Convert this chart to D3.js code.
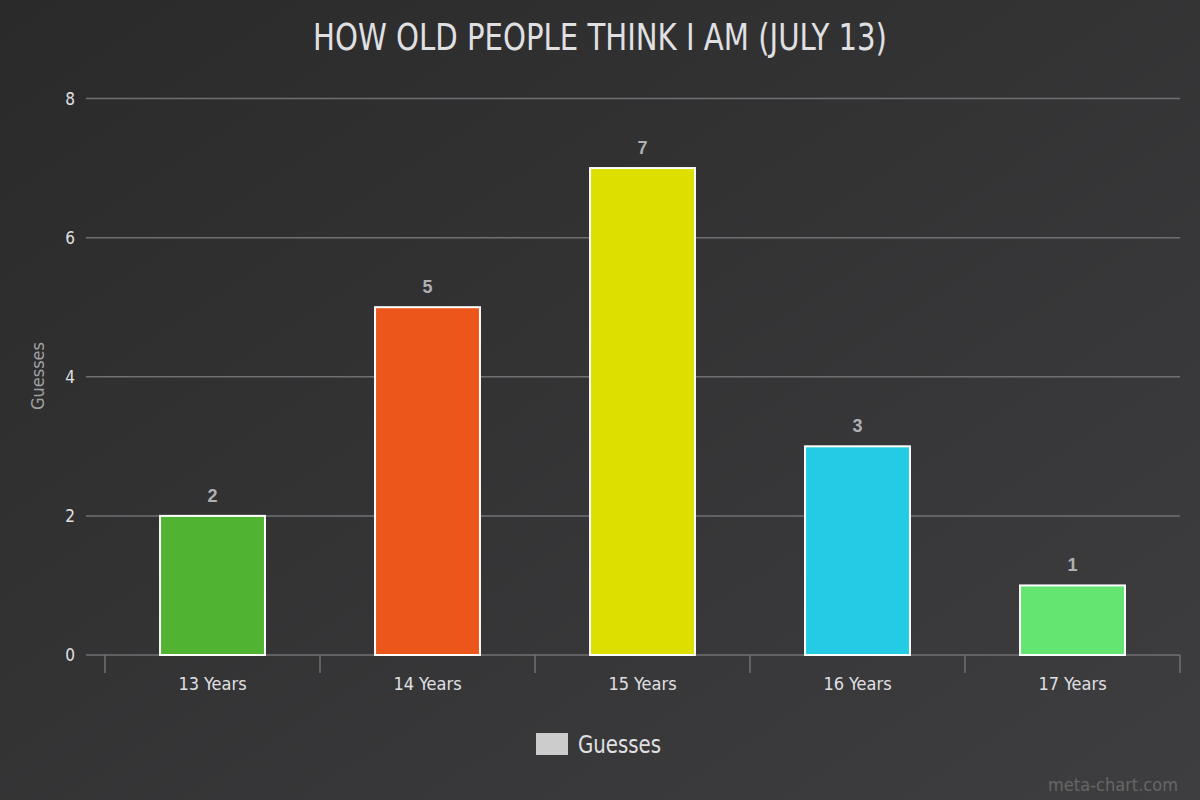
<!DOCTYPE html>
<html><head><meta charset="utf-8">
<script src="https://cdn.jsdelivr.net/npm/d3@7"></script>
<style>html,body{margin:0;padding:0;background:#2a2a2b;}svg{display:block;}</style>
</head><body>
<svg id="c" width="1200" height="800"></svg>
<script>
const categories = ["13 Years","14 Years","15 Years","16 Years","17 Years"];
const values = [2,5,7,3,1];
const colors = ["#50b432","#ed561b","#dddf00","#24cbe5","#64e572"];
const yTicks = [0,2,4,6,8];
const title = "HOW OLD PEOPLE THINK I AM (JULY 13)";
const seriesName = "Guesses";

const cond = "'Liberation Sans Narrow','DejaVu Sans Condensed',sans-serif";
const svg = d3.select("#c");
const defs = svg.append("defs");
const g = defs.append("linearGradient").attr("id","bg").attr("x1","0").attr("y1","0").attr("x2","1").attr("y2","1");
g.append("stop").attr("offset","0").attr("stop-color","#2a2a2b");
g.append("stop").attr("offset","1").attr("stop-color","#3e3e40");
svg.append("rect").attr("width",1200).attr("height",800).attr("fill","url(#bg)");

const x = d3.scaleBand().domain(categories).range([105,1180]).padding(0);
const y = d3.scaleLinear().domain([0,8]).range([655,98.5]);

// gridlines
svg.append("g").selectAll("line").data(yTicks).join("line")
  .attr("x1",86).attr("x2",1180).attr("y1",d=>y(d)).attr("y2",d=>y(d))
  .attr("stroke","#707073").attr("stroke-width",1.5);

// y tick labels
svg.append("g").selectAll("text").data(yTicks).join("text")
  .attr("x",75).attr("y",d=>y(d)+6).attr("text-anchor","end")
  .attr("fill","#E0E0E3").attr("font-family",cond).attr("font-size",17).text(d=>d);

// x axis ticks
const bounds = categories.map(c=>x(c)).concat([x.range()[1]]);
svg.append("g").selectAll("line").data(bounds).join("line")
  .attr("x1",d=>d).attr("x2",d=>d).attr("y1",655).attr("y2",673)
  .attr("stroke","#707073").attr("stroke-width",1.5);

svg.append("g").selectAll("text").data(categories).join("text")
  .attr("x",d=>x(d)+x.bandwidth()/2).attr("y",690).attr("text-anchor","middle")
  .attr("fill","#E0E0E3").attr("font-family",cond).attr("font-size",18).text(d=>d);

// bars
const bf = 0.488;
const bw = x.bandwidth()*bf;
svg.append("g").selectAll("rect").data(values).join("rect")
  .attr("x",(d,i)=>x(categories[i])+(x.bandwidth()-bw)/2)
  .attr("y",d=>y(d))
  .attr("width",bw).attr("height",d=>y(0)-y(d))
  .attr("fill",(d,i)=>colors[i]).attr("stroke","#ffffff").attr("stroke-width",2);

// data labels
svg.append("g").selectAll("text").data(values).join("text")
  .attr("x",(d,i)=>x(categories[i])+x.bandwidth()/2).attr("y",d=>y(d)-14)
  .attr("text-anchor","middle").attr("fill","#B0B0B3")
  .attr("font-family","'Liberation Sans',Arial,sans-serif").attr("font-weight","bold").attr("font-size",18)
  .text(d=>d);

// title
svg.append("text").attr("x",600).attr("y",50).attr("text-anchor","middle")
  .attr("fill","#E0E0E3").attr("font-family",cond).attr("font-size",38)
  .attr("textLength",574).attr("lengthAdjust","spacingAndGlyphs").text(title);

// y axis title
svg.append("text").attr("transform","translate(44,376) rotate(-90)").attr("text-anchor","middle")
  .attr("fill","#A0A0A3").attr("font-family",cond).attr("font-size",18)
  .attr("textLength",68).attr("lengthAdjust","spacingAndGlyphs").text(seriesName);

// legend
svg.append("rect").attr("x",536).attr("y",733).attr("width",32).attr("height",22).attr("fill","#cccccc");
svg.append("text").attr("x",578).attr("y",753).attr("fill","#E0E0E3").attr("font-family",cond).attr("font-size",24)
  .attr("textLength",83).attr("lengthAdjust","spacingAndGlyphs").text(seriesName);

// credits
svg.append("text").attr("x",1178).attr("y",791).attr("text-anchor","end").attr("fill","#666666")
  .attr("font-family",cond).attr("font-size",18).attr("textLength",130).attr("lengthAdjust","spacingAndGlyphs").text("meta-chart.com");
</script>
</body></html>
